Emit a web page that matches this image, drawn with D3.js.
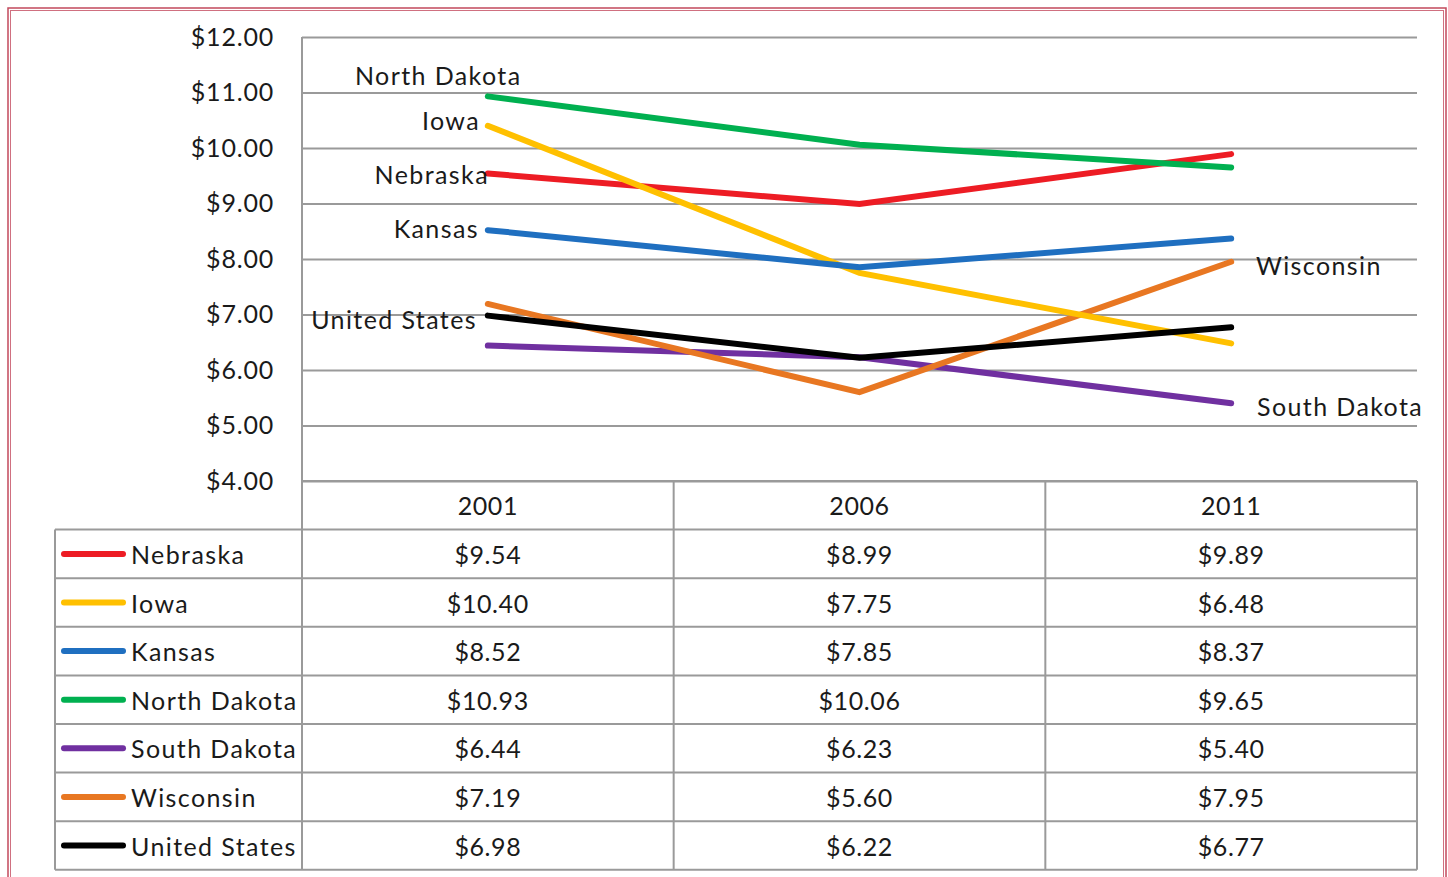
<!DOCTYPE html>
<html>
<head>
<meta charset="utf-8">
<script src="https://cdn.jsdelivr.net/npm/d3@7"></script>
<style>
  html, body { margin: 0; padding: 0; background: #fff; }
  svg text { font-family: Lato, "Open Sans", sans-serif; fill: #1a1a1a; }
</style>
</head>
<body>
<svg id="chart" width="1448" height="877"></svg>
<script>
// Average wage by state, 2001 / 2006 / 2011
const years = ["2001", "2006", "2011"];
const states = ["Nebraska", "Iowa", "Kansas", "North Dakota", "South Dakota", "Wisconsin", "United States"];
const nebraska = [9.54, 8.99, 9.89];
const iowa = [10.40, 7.75, 6.48];
const kansas = [8.52, 7.85, 8.37];
const northDakota = [10.93, 10.06, 9.65];
const southDakota = [6.44, 6.23, 5.40];
const wisconsin = [7.19, 5.60, 7.95];
const unitedStates = [6.98, 6.22, 6.77];
const yTicks = [4, 5, 6, 7, 8, 9, 10, 11, 12];

const seriesValues = [nebraska, iowa, kansas, northDakota, southDakota, wisconsin, unitedStates];
const colors = ["#ED1C24", "#FFC000", "#1F6FC0", "#00B050", "#7030A0", "#E87722", "#000000"];

const svg = d3.select("#chart");

// outer double frame
svg.append("rect").attr("x", 8).attr("y", 8).attr("width", 1438).attr("height", 880)
  .attr("fill", "none").attr("stroke", "#c24a5c").attr("stroke-width", 1.5);
svg.append("rect").attr("x", 10.5).attr("y", 10.5).attr("width", 1433).attr("height", 875)
  .attr("fill", "none").attr("stroke", "#d07080").attr("stroke-width", 1);

const plotLeft = 302, plotRight = 1417, plotTop = 37, plotBottom = 481;
const tableLeft = 55, rowH = 48.6;

const x = d3.scaleBand().domain(years).range([plotLeft, plotRight]);
const y = d3.scaleLinear().domain([4, 12]).range([plotBottom, plotTop]);

const grid = "#9a9a9a";

// gridlines via axis
const yAxis = d3.axisLeft(y).tickValues(yTicks)
  .tickSize(-(plotRight - plotLeft)).tickFormat(d => "$" + d3.format(".2f")(d)).tickPadding(28);
const gy = svg.append("g").attr("transform", `translate(${plotLeft},0)`).call(yAxis);
gy.select(".domain").remove();
gy.selectAll(".tick line").attr("stroke", grid).attr("stroke-width", 2);
gy.selectAll(".tick text").attr("font-size", 25).attr("fill", "#1a1a1a").attr("letter-spacing", 0.8)
  .style("font-family", "Lato, 'Open Sans', sans-serif");

// data table grid
const nRows = states.length;
const tableBottom = plotBottom + rowH * (nRows + 1);
const tg = svg.append("g").attr("stroke", grid).attr("stroke-width", 2).attr("fill", "none");
// vertical axis line from plot top down through the table
tg.append("line").attr("x1", plotLeft).attr("x2", plotLeft).attr("y1", plotTop).attr("y2", tableBottom);
// column separators
years.forEach((yr) => {
  const xe = x(yr) + x.bandwidth();
  tg.append("line").attr("x1", xe).attr("x2", xe).attr("y1", plotBottom).attr("y2", tableBottom);
});
// row lines
for (let r = 0; r <= nRows + 1; r++) {
  const yy = plotBottom + r * rowH;
  tg.append("line").attr("x1", r >= 1 ? tableLeft : plotLeft).attr("x2", plotRight).attr("y1", yy).attr("y2", yy);
}
tg.append("line").attr("x1", tableLeft).attr("x2", tableLeft).attr("y1", plotBottom + rowH).attr("y2", tableBottom);

// header years
svg.append("g").selectAll("text").data(years).join("text")
  .attr("x", d => x(d) + x.bandwidth() / 2).attr("y", plotBottom + rowH / 2)
  .attr("text-anchor", "middle").attr("dominant-baseline", "central")
  .attr("font-size", 25).attr("letter-spacing", 0.6).text(d => d);

// rows: legend key + values
states.forEach((s, i) => {
  const cy = plotBottom + rowH * (i + 1) + rowH / 2;
  svg.append("line").attr("x1", 64).attr("x2", 123).attr("y1", cy).attr("y2", cy)
    .attr("stroke", colors[i]).attr("stroke-width", 6).attr("stroke-linecap", "round");
  svg.append("text").attr("x", 131).attr("y", cy).attr("dominant-baseline", "central")
    .attr("font-size", 25).attr("letter-spacing", 1.4).text(s);
  seriesValues[i].forEach((v, j) => {
    svg.append("text").attr("x", x(years[j]) + x.bandwidth() / 2).attr("y", cy)
      .attr("text-anchor", "middle").attr("dominant-baseline", "central")
      .attr("font-size", 25).attr("letter-spacing", 0.6).text("$" + d3.format(".2f")(v));
  });
});

// lines
const line = d3.line().x((d, j) => x(years[j]) + x.bandwidth() / 2).y(d => y(d));
const order = [4, 5, 0, 1, 2, 3, 6];
order.forEach(i => {
  svg.append("path").datum(seriesValues[i]).attr("d", line)
    .attr("fill", "none").attr("stroke", colors[i]).attr("stroke-width", 6)
    .attr("stroke-linecap", "round").attr("stroke-linejoin", "miter");
});

// direct series labels
const labels = [
  { name: "North Dakota", x: 355, y: 75, anchor: "start" },
  { name: "Iowa", x: 480, y: 120, anchor: "end" },
  { name: "Nebraska", x: 489, y: 174, anchor: "end" },
  { name: "Kansas", x: 479, y: 228, anchor: "end" },
  { name: "United States", x: 477, y: 319, anchor: "end" },
  { name: "Wisconsin", x: 1256, y: 265, anchor: "start" },
  { name: "South Dakota", x: 1257, y: 406, anchor: "start" }
];
svg.append("g").selectAll("text").data(labels).join("text")
  .attr("x", d => d.x).attr("y", d => d.y).attr("text-anchor", d => d.anchor)
  .attr("dominant-baseline", "central").attr("font-size", 25).attr("letter-spacing", 1.4)
  .text(d => d.name);
</script>
</body>
</html>
